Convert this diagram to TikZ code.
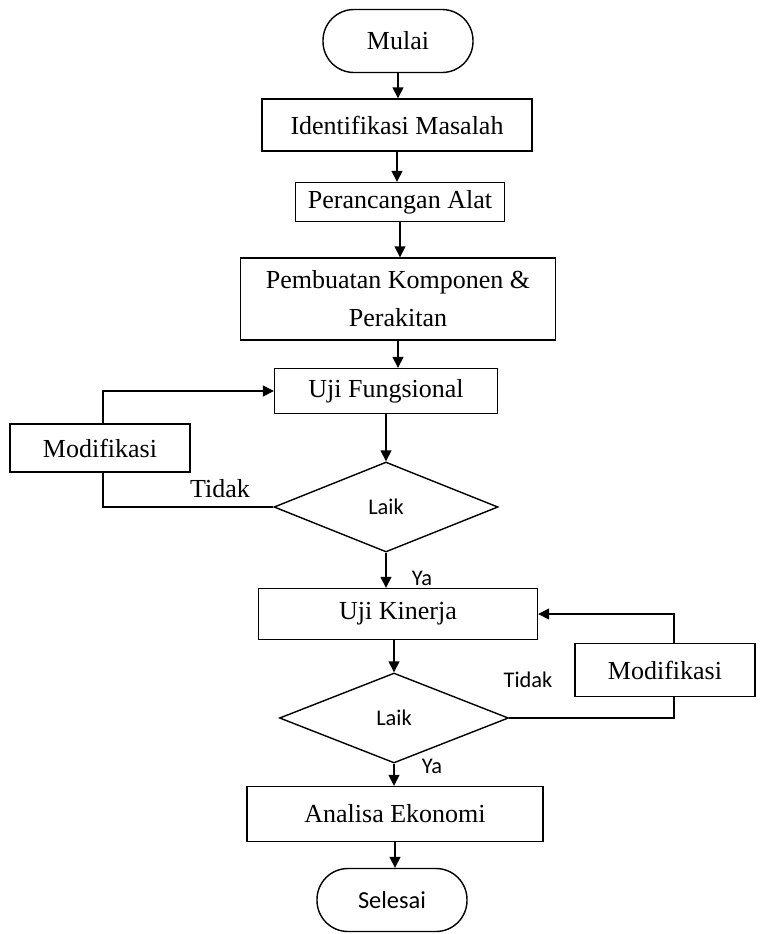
\documentclass[tikz,border=0pt]{standalone}
\usepackage{fontspec}
\setmainfont{Liberation Serif}
\newfontfamily\calib{Carlito}
\usetikzlibrary{shapes.geometric,arrows.meta}
\begin{document}
\begin{tikzpicture}[x=0.5pt,y=-0.5pt,
  line width=0.7pt,
  every node/.style={font=\fontsize{13}{16}\selectfont, inner sep=0pt},
  box/.style={draw, rectangle, align=center},
  term/.style={draw, rectangle, rounded corners=15.5pt, minimum width=75pt, minimum height=31.5pt, font=\fontsize{13}{16}\selectfont},
  dec/.style={draw, diamond, minimum width=112pt, minimum height=45pt, font=\calib\fontsize{11.2}{13}\selectfont},
  lbl/.style={font=\calib\fontsize{11.2}{13}\selectfont},
  arr/.style={-{Triangle[length=5.5pt,width=5.5pt]}}]
\useasboundingbox (0,0) rectangle (774,934);
\node[term] (mulai) at (398,41) {Mulai};
\node[box, minimum width=135pt, minimum height=26pt] (ident) at (397,125) {Identifikasi Masalah};
\node[box, minimum width=104.5pt, minimum height=19.5pt] (ranc) at (400,202) {Perancangan Alat};
\node[box, minimum width=157.5pt, minimum height=41pt] (buat) at (398,299) {Pembuatan Komponen \&\\[3pt]Perakitan};
\node[box, minimum width=111.5pt, minimum height=22.5pt] (ujif) at (386,391) {Uji Fungsional};
\node[box, minimum width=90pt, minimum height=24pt] (modl) at (100,448) {Modifikasi};
\node[dec] (d1) at (386,507) {Laik};
\node[box, minimum width=139.5pt, minimum height=25.5pt] (ujik) at (398,614) {Uji Kinerja};
\node[dec, minimum width=114.5pt] (d2) at (394,718) {Laik};
\node[box, minimum width=90pt, minimum height=26.5pt] (modr) at (665,670) {Modifikasi};
\node[box, minimum width=148pt, minimum height=27.5pt] (ana) at (395,814) {Analisa Ekonomi};
\node[term, font=\calib\fontsize{12.2}{14}\selectfont] (sel) at (392,900) {Selesai};
\node (tidak1) at (220,489) {Tidak};
\node[lbl] (ya1) at (422,578) {Ya};
\node[lbl] (tidak2) at (528,680) {Tidak};
\node[lbl] (ya2) at (432,766) {Ya};
\draw[arr] (mulai.south) -- (mulai.south |- ident.north);
\draw[arr] (ident.south) -- (ident.south |- ranc.north);
\draw[arr] (ranc.south) -- (ranc.south |- buat.north);
\draw[arr] (buat.south) -- (buat.south |- ujif.north);
\draw[arr] (d1.north |- ujif.south) -- (d1.north);
\draw (d1.west) -| ([xshift=1.5pt]modl.south);
\draw[arr] ([xshift=1.5pt]modl.north) |- (ujif.west);
\draw[arr] (d1.south) -- (d1.south |- ujik.north);
\draw[arr] (d2.north |- ujik.south) -- (d2.north);
\draw (d2.east) -| ([xshift=4.5pt]modr.south);
\draw[arr] ([xshift=4.5pt]modr.north) |- (ujik.east);
\draw[arr] (d2.south) -- (d2.south |- ana.north);
\draw[arr] (ana.south) -- (ana.south |- sel.north);
\end{tikzpicture}
\end{document}
